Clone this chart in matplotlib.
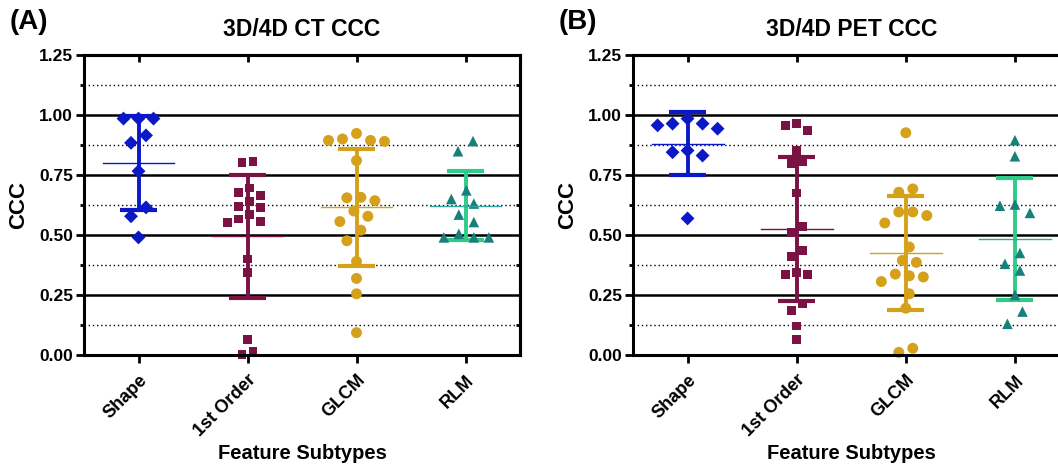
import numpy as np
import matplotlib
matplotlib.use('Agg')
import matplotlib.pyplot as plt
from matplotlib.ticker import MultipleLocator

plt.rcParams['font.family'] = ['Liberation Sans', 'DejaVu Sans']
plt.rcParams['font.weight'] = 'bold'

CATEGORIES = ['Shape', '1st Order', 'GLCM', 'RLM']

# CCC values per feature
CT_SHAPE = [0.985, 0.985, 0.985, 0.915, 0.884, 0.766, 0.615, 0.578, 0.49]
CT_FIRST = [0.807, 0.803, 0.696, 0.678, 0.664, 0.64, 0.62, 0.613, 0.585,
            0.567, 0.557, 0.553, 0.40, 0.344, 0.063, 0.017, 0.003]
CT_GLCM = [0.923, 0.90, 0.894, 0.894, 0.89, 0.81, 0.657, 0.655, 0.643, 0.60,
           0.578, 0.556, 0.52, 0.476, 0.39, 0.319, 0.255, 0.093]
CT_RLM = [0.891, 0.849, 0.686, 0.65, 0.631, 0.585, 0.554, 0.505, 0.49, 0.49, 0.49]
CT_MEAN = [0.80, 0.494, 0.615, 0.622]
CT_SD = [0.196, 0.255, 0.245, 0.143]

PET_SHAPE = [0.985, 0.964, 0.964, 0.957, 0.943, 0.852, 0.845, 0.831, 0.569]
PET_FIRST = [0.965, 0.957, 0.937, 0.853, 0.807, 0.798, 0.675, 0.536, 0.511,
             0.436, 0.411, 0.344, 0.334, 0.334, 0.216, 0.185, 0.121, 0.063]
PET_GLCM = [0.926, 0.692, 0.678, 0.596, 0.596, 0.581, 0.55, 0.45, 0.394, 0.386,
            0.337, 0.33, 0.325, 0.306, 0.255, 0.195, 0.028, 0.011]
PET_RLM = [0.895, 0.828, 0.627, 0.622, 0.592, 0.425, 0.38, 0.352, 0.25, 0.181, 0.13]
PET_MEAN = [0.88, 0.525, 0.425, 0.483]
PET_SD = [0.132, 0.30, 0.236, 0.255]

MARKERS = ['D', 's', 'o', '^']
MARKER_SIZE = [50, 40, 62, 58]
STEP_PX = [15, 11, 14, 15]
POINT_COLORS = ['#0a18c8', '#7a1244', '#d6a11a', '#17807a']
BAR_COLORS = ['#0a18c8', '#7a1244', '#d6a11a', '#2fcb88']
MEAN_COLORS = ['#0a18c8', '#7a1244', '#d6a11a', '#3aa3a3']

W, H = 1058, 469
YMAX = 1.25


def swarm(vals, step, ppu):
    y = np.asarray(vals) * ppu
    order = np.argsort(-y, kind='stable')
    cands = [0.0]
    for m in range(1, 40):
        cands += [-m * step / 2, m * step / 2]
    pos = {}
    for i in order:
        for c in cands:
            if all(np.hypot(c - pos[j], y[i] - y[j]) >= step - 1e-6 for j in pos):
                pos[i] = c
                break
    offs = np.array([pos[i] for i in range(len(vals))])
    # centre each chain of touching points
    ys = y[order]
    start = 0
    for k in range(1, len(order) + 1):
        if k == len(order) or ys[k - 1] - ys[k] >= step:
            idx = order[start:k]
            offs[idx] -= offs[idx].mean()
            start = k
    return offs


def panel(rect, groups, means, sds, title, letter):
    ax = fig.add_axes(rect)
    ax.set_xlim(-0.5, 3.5)
    ax.set_ylim(0, YMAX)
    ax_w = rect[2] * W
    ax_h = rect[3] * H
    ppx = ax_w / 4.0
    ppu = ax_h / YMAX

    ax.yaxis.set_major_locator(MultipleLocator(0.25))
    ax.yaxis.set_minor_locator(MultipleLocator(0.125))
    ax.grid(which='major', axis='y', color='black', lw=1.8, ls='-', zorder=0)
    ax.grid(which='minor', axis='y', color='black', lw=1.0, ls=(0, (1, 2)), zorder=0)

    for i, vals in enumerate(groups):
        offs = swarm(vals, STEP_PX[i], ppu) / ppx
        m, s = means[i], sds[i]
        ax.plot([i, i], [m - s, m + s], color=BAR_COLORS[i], lw=2.8, zorder=2,
                solid_capstyle='butt')
        for yv in (m - s, m + s):
            ax.plot([i - 0.17, i + 0.17], [yv, yv], color=BAR_COLORS[i], lw=3.0,
                    zorder=2, solid_capstyle='butt')
        ax.plot([i - 0.33, i + 0.33], [m, m], color=MEAN_COLORS[i], lw=1.0, zorder=4)
        ax.scatter(i + offs, vals, marker=MARKERS[i], s=MARKER_SIZE[i],
                   color=POINT_COLORS[i], edgecolors='none', zorder=3, clip_on=False)

    ax.set_xticks(range(4))
    ax.set_xticklabels(CATEGORIES, rotation=45, ha='right', va='top',
                       rotation_mode='anchor', fontsize=13, fontweight='bold')
    ax.set_yticks([0, 0.25, 0.5, 0.75, 1.0, 1.25])
    ax.set_yticklabels(['%.2f' % v for v in [0, 0.25, 0.5, 0.75, 1.0, 1.25]],
                       fontsize=12.5, fontweight='bold')
    ax.tick_params(axis='x', which='major', direction='out', length=6, width=2, pad=6)
    ax.tick_params(axis='y', which='major', direction='out', length=6, width=2, pad=2)
    ax.tick_params(axis='y', which='minor', direction='out', length=3, width=2)
    for sp in ax.spines.values():
        sp.set_linewidth(2.2)
        sp.set_zorder(5)

    top = ax.secondary_xaxis('top')
    top.set_xticks(range(4))
    top.set_xticklabels([])
    top.tick_params(direction='in', length=5, width=2)
    top.spines['top'].set_linewidth(2.2)
    right = ax.secondary_yaxis('right')
    right.set_yticks([0.125, 0.375, 0.625, 0.875, 1.125])
    right.set_yticklabels([])
    right.tick_params(direction='in', length=3, width=2)
    right.spines['right'].set_linewidth(2.2)

    ax.set_ylabel('CCC', fontsize=16, fontweight='bold', labelpad=7)
    ax.set_xlabel('Feature Subtypes', fontsize=14.5, fontweight='bold', labelpad=3)
    ax.set_title(title, fontsize=16.5, fontweight='bold', pad=14)
    fig.text(rect[0] - 74 / W, 1 - 22 / H, letter, fontsize=20, fontweight='bold',
             va='center', ha='left')
    return ax


fig = plt.figure(figsize=(W / 100, H / 100), dpi=100)
panel([84 / W, 114 / H, 436 / W, 300 / H], [CT_SHAPE, CT_FIRST, CT_GLCM, CT_RLM],
      CT_MEAN, CT_SD, '3D/4D CT CCC', '(A)')
panel([633 / W, 114 / H, 436.5 / W, 300 / H], [PET_SHAPE, PET_FIRST, PET_GLCM, PET_RLM],
      PET_MEAN, PET_SD, '3D/4D PET CCC', '(B)')
fig.savefig('out.png', dpi=100)
